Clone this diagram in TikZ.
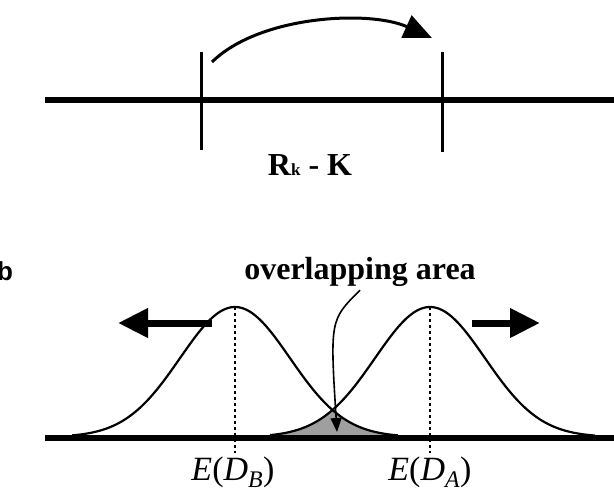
\documentclass[tikz,border=0pt]{standalone}
\usepackage{fontspec}
\setmainfont{Liberation Serif}
\setsansfont{Liberation Sans}
\usetikzlibrary{arrows.meta}
\begin{document}
\begin{tikzpicture}[x=1pt,y=-1pt,
  axis/.style={line width=6.5pt},
  tick/.style={line width=3pt},
  curve/.style={line width=2.2pt},
  bigarrow/.style={line width=7pt,-{Triangle[length=30pt,width=28pt]}},
  lbl/.style={font=\bfseries\fontsize{32}{32}\selectfont}]
\useasboundingbox (0,0) rectangle (614,498);
% top part
\coordinate (t1) at (45,100); \coordinate (t2) at (614,100);
\draw[axis] (t1) -- (t2);
\coordinate (a1) at (201,52); \coordinate (a2) at (201,150);
\coordinate (b1) at (442,52); \coordinate (b2) at (442,152);
\draw[tick] (a1) -- (a2);
\draw[tick] (b1) -- (b2);
\coordinate (s) at (212,62); \coordinate (e) at (432,38);
\draw[line width=3pt,-{Triangle[length=28pt,width=24pt]}] (s) .. controls (260,15) and (370,10) .. (e);
\node[lbl] (rk) at (310,165) {R{\fontsize{17}{17}\selectfont k} - K};
% bottom part
\node[font=\sffamily\bfseries\fontsize{26}{26}\selectfont,anchor=west,inner sep=0pt] (b) at (-3,271) {b};
\node[lbl] (ov) at (360,272) {overlapping area};
\fill[gray!75] plot[domain=-2.91:-1.77,samples=40] ({430+55*\x},{437-130*exp(-\x*\x/2)})
  -- plot[domain=1.77:2.96,samples=40] ({235+55*\x},{437-130*exp(-\x*\x/2)}) -- (398,438) -- (270,438) -- cycle;
\draw[curve] plot[domain=-2.96:2.96,samples=120] ({235+55*\x},{437-130*exp(-\x*\x/2)});
\draw[curve] plot[domain=-2.91:3.0,samples=120] ({430+55*\x},{437-130*exp(-\x*\x/2)});
\coordinate (l1) at (45,438); \coordinate (l2) at (614,438);
\draw[axis] (l1) -- (l2);
\coordinate (pB) at (235,307); \coordinate (bB) at (235,453);
\coordinate (pA) at (430,307); \coordinate (bA) at (430,453);
\draw[dashed,line width=1.6pt] (pB) -- (bB);
\draw[dashed,line width=1.6pt] (pA) -- (bA);
\coordinate (ar) at (337,432);
\draw[line width=1.6pt,-{Triangle[length=14pt,width=11pt]}] (ov.south) .. controls (330,320) .. (ar);
\coordinate (la) at (212,323); \coordinate (lb) at (118,323);
\draw[bigarrow] (la) -- (lb);
\coordinate (ra) at (472,323); \coordinate (rb) at (540,323);
\draw[bigarrow] (ra) -- (rb);
\node[font=\fontsize{34}{34}\selectfont] (eb) at (233,472) {\textit{E}(\textit{D}\textsubscript{\textit{B}})};
\node[font=\fontsize{34}{34}\selectfont] (ea) at (430,472) {\textit{E}(\textit{D}\textsubscript{\textit{A}})};
\end{tikzpicture}
\end{document}
